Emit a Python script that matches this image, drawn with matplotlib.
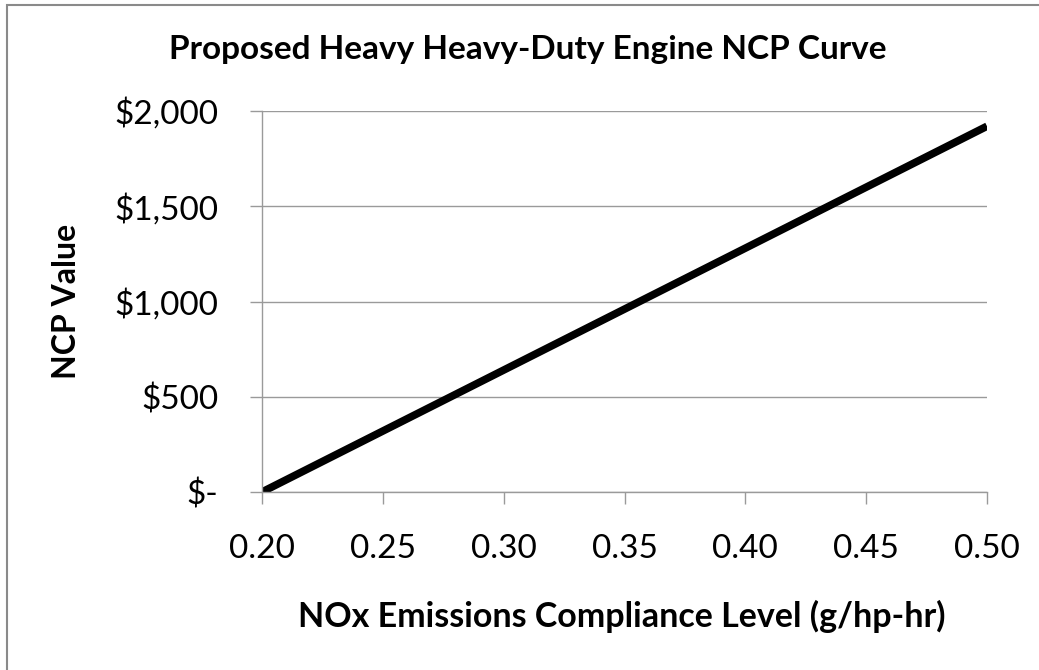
import matplotlib
matplotlib.use("Agg")
import matplotlib.pyplot as plt
from matplotlib.patches import Rectangle
from matplotlib.ticker import FuncFormatter

# data
nox_level = [0.20, 0.25, 0.30, 0.35, 0.40, 0.45, 0.50]
ncp_value = [0, 320, 640, 960, 1280, 1600, 1920]

x_ticks = [0.20, 0.25, 0.30, 0.35, 0.40, 0.45, 0.50]
y_ticks = [0, 500, 1000, 1500, 2000]

title = "Proposed Heavy Heavy-Duty Engine NCP Curve"
x_label = "NOx Emissions Compliance Level (g/hp-hr)"
y_label = "NCP Value"

plt.rcParams['font.family'] = ['Lato', 'DejaVu Sans']

W, H = 1039, 670
fig = plt.figure(figsize=(W / 100, H / 100), dpi=100)
ax = fig.add_axes([262 / W, 1 - 492 / H, (987 - 262) / W, (492 - 111) / H])

ax.plot(nox_level, ncp_value, color='black', linewidth=5.5, solid_capstyle='butt')

ax.set_xlim(0.20, 0.50)
ax.set_ylim(0, 2000)
ax.set_xticks(x_ticks)
ax.set_yticks(y_ticks)
ax.xaxis.set_major_formatter(FuncFormatter(lambda v, p: f"{v:.2f}"))
ax.yaxis.set_major_formatter(FuncFormatter(lambda v, p: "$-" if v == 0 else f"${v:,.0f}"))

grid_col = '#9a9a9a'
ax.grid(axis='y', color=grid_col, linewidth=1)
ax.set_axisbelow(True)
for s in ['top', 'right']:
    ax.spines[s].set_visible(False)
for s in ['left', 'bottom']:
    ax.spines[s].set_color(grid_col)
    ax.spines[s].set_linewidth(1)

ax.tick_params(axis='x', direction='out', color=grid_col, width=1, length=8.5, labelsize=24, pad=22)
ax.tick_params(axis='y', direction='out', color=grid_col, width=1, length=8.5, labelsize=24, pad=23)

# titles placed in pixel spots
fig.text(527.5 / W, 1 - 59 / H, title, ha='center', va='baseline', fontsize=24, fontweight='bold')
fig.text(621.5 / W, 1 - 627 / H, x_label, ha='center', va='baseline', fontsize=24.5, fontweight='bold')
fig.text(66 / W, 1 - 301 / H, y_label, ha='center', va='center', fontsize=23, fontweight='bold', rotation=90)

# chart frame (only left/top edges fall inside the image)
fig.patches.append(Rectangle((7 / W, -0.1), 1.2, 1 - 5 / H + 0.1, transform=fig.transFigure,
                             fill=False, edgecolor='#8a8a8a', linewidth=1.5))

fig.savefig("out.png", dpi=100)
